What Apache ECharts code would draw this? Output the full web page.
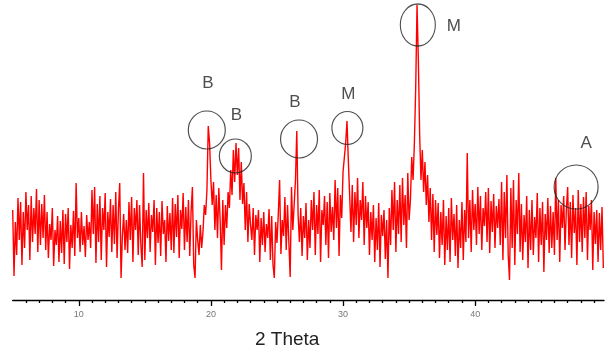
<!DOCTYPE html>
<html>
<head>
<meta charset="utf-8">
<script src="https://cdn.jsdelivr.net/npm/echarts@6/dist/echarts.min.js"></script>
<style>
html,body{margin:0;padding:0;background:#fff;}
#chart{width:611px;height:351px;}
</style>
</head>
<body>
<div id="chart"></div>
<script>
// Scan grid (2 Theta, degrees)
const startAngle = 5.0;
const stepAngle = 0.1;

// Intensity (arbitrary units), one value per step
const intensity = [
  90, 24, 78, 45, 102, 60, 98, 35, 88, 52, 108, 70, 95, 40, 104, 58, 92, 66, 111, 48, 100, 55, 96, 62, 105,
  50, 88, 42, 76, 60, 92, 34, 70, 55, 84, 38, 79, 47, 90,
  36, 86, 58, 92, 31, 75, 52, 89, 44,
  117,
  62, 82, 48, 88, 55, 74, 43, 85, 60, 78,
  52, 110, 66, 113, 37, 96,
  58, 104, 40, 92, 70, 107, 33, 88, 63,
  101, 48, 95, 56, 108, 42, 90,
  117, 22,
  64, 86, 50, 80,
  47, 98, 60, 103, 38, 92, 70, 100, 45, 95, 55, 33, 127,
  40, 90, 62, 97, 48, 85, 68, 100, 35, 92, 57, 88, 44, 99, 66, 80, 38, 94, 59, 87, 50,
  102, 47, 96, 63, 105, 42, 90, 71, 107, 50, 93, 58, 100, 44, 88,
  113, 35, 22, 80,
  60, 45, 75, 52, 68, 95, 85, 110,
  174, 157, 120, 95,
  118, 70, 105, 62, 112, 80, 30, 100, 55, 95, 72,
  108, 92, 130, 105, 150, 118, 157, 125, 152, 100, 138, 96,
  117, 70, 108, 58, 96, 75,
  60, 92, 45, 85, 70, 90, 38, 82, 55, 88, 48, 76, 62, 91, 40, 84, 35, 22, 78, 57, 86, 120, 46, 80, 64, 103, 50, 95, 58, 23, 113,
  70, 95, 120,
  169, 85,
  58, 92, 44, 84, 62, 97, 40, 80,
  52, 100, 70, 108, 45, 95, 66, 110, 38, 90, 75, 104, 55, 98, 42, 107, 68, 93,
  60, 120, 72, 112, 44, 105, 82, 128,
  130, 157, 179, 140, 105,
  68, 115, 58, 108, 75, 122, 62, 100, 80, 118, 55, 104, 72, 98,
  45, 88, 60, 95, 38, 82, 50, 97, 33, 85, 64, 90, 41, 80, 22, 92,
  55, 110, 70, 118, 48, 100, 66, 115, 58, 122, 75, 105, 52, 127, 80,
  100, 143, 120, 157, 212,
  295, 240,
  165, 120, 150, 108, 138,
  95, 125, 78, 112, 60, 106, 48, 100, 65,
  97, 42, 88, 55, 100, 35, 84, 50, 92, 38, 102, 60, 86, 44, 95, 32, 80, 52, 98, 40, 90, 58,
  147,
  62, 100, 48, 110, 70, 96, 55, 113, 66, 104, 50, 92, 74, 108, 58, 112, 47, 99, 68, 106, 52, 94, 72, 101,
  55, 118, 40, 108, 62, 125, 45, 20, 112, 52, 120, 35, 100, 66, 127, 48,
  96, 40, 85, 58, 104, 32, 90, 50, 100, 45, 83, 62, 107, 38, 92, 55, 98, 28, 86, 60, 102, 47, 94, 52, 88,
  45, 122, 60, 100, 38, 95, 72, 104, 50, 90, 113, 55, 98, 42, 105, 67, 92, 35, 110, 58, 96, 48, 103, 62, 108, 40, 94, 70, 100, 30, 88, 56,
  90, 38, 87, 50, 93, 32
];

// Annotated peaks (circle centres in data units) and their phase letters
const peakAngles = [19.69, 21.85, 26.67, 30.33, 35.66, 47.64];
const peakLevels = [170, 144, 161, 172, 275, 113];
const peakLabels = ['B', 'B', 'B', 'M', 'M', 'A'];

// Axis ticks
const majorTicks = [10, 20, 30, 40];
const minorTicks = [6, 7, 8, 9, 11, 12, 13, 14, 15, 16, 17, 18, 19, 21, 22, 23, 24, 25, 26, 27, 28, 29,
                    31, 32, 33, 34, 35, 36, 37, 38, 39, 41, 42, 43, 44, 45, 46, 47, 48, 49];

const xMin = 5, xMax = 49.75;
const axisTitle = '2 Theta';

const gLeft = 12.7, gRight = 7, gBottom = 51, gTop = 0;

const lineData = intensity.map((v, i) => [+(startAngle + i * stepAngle).toFixed(2), v]);
const circleSizes = [[37, 38], [32, 34], [37, 38], [31, 33], [35, 42], [44, 44]];
const labelOffsets = [[1, -47], [1, -41], [-4, -37], [1, -34], [36, 1], [10, -44]];
const annData = peakAngles.map((a, i) => ({
  value: [a, peakLevels[i]],
  symbolSize: circleSizes[i],
  label: { formatter: peakLabels[i], offset: labelOffsets[i] }
}));

const baseX = (extra) => Object.assign({
  type: 'value', min: xMin, max: xMax,
  splitLine: { show: false }, minorTick: { show: false }, minorSplitLine: { show: false }
}, extra);

const chart = echarts.init(document.getElementById('chart'), null, { renderer: 'canvas' });
chart.setOption({
  animation: false,
  backgroundColor: '#ffffff',
  grid: { left: gLeft, right: gRight, top: gTop, bottom: gBottom },
  xAxis: [
    baseX({
      axisLine: { show: true, lineStyle: { color: '#000', width: 1.3 } },
      axisTick: { show: true, customValues: majorTicks, length: 6, lineStyle: { color: '#000', width: 1.3 } },
      axisLabel: {
        show: true, customValues: majorTicks, margin: 10, color: '#777', fontSize: 9,
        fontFamily: 'Liberation Sans'
      }
    }),
    baseX({
      position: 'bottom',
      axisLine: { show: false },
      axisTick: { show: true, customValues: minorTicks, length: 3, lineStyle: { color: '#000', width: 1.3 } },
      axisLabel: { show: false }
    })
  ],
  yAxis: { type: 'value', min: 0, max: 300, show: false },
  graphic: [{
    type: 'text', left: 255, top: 330,
    style: { text: axisTitle, fontSize: 19, fontFamily: 'Liberation Sans', fill: '#222' }
  }],
  series: [
    {
      type: 'line', xAxisIndex: 0, yAxisIndex: 0, data: lineData,
      showSymbol: false, symbol: 'none',
      lineStyle: { color: '#ff0000', width: 1.4 },
      z: 2
    },
    {
      type: 'scatter', xAxisIndex: 0, yAxisIndex: 0, data: annData,
      symbol: 'circle',
      itemStyle: { color: 'rgba(0,0,0,0)', borderColor: '#222', borderWidth: 1.2 },
      label: {
        show: true, position: 'inside', color: '#222', fontSize: 17,
        fontFamily: 'Liberation Sans'
      },
      emphasis: { disabled: true },
      z: 3
    }
  ]
});
</script>
</body>
</html>
